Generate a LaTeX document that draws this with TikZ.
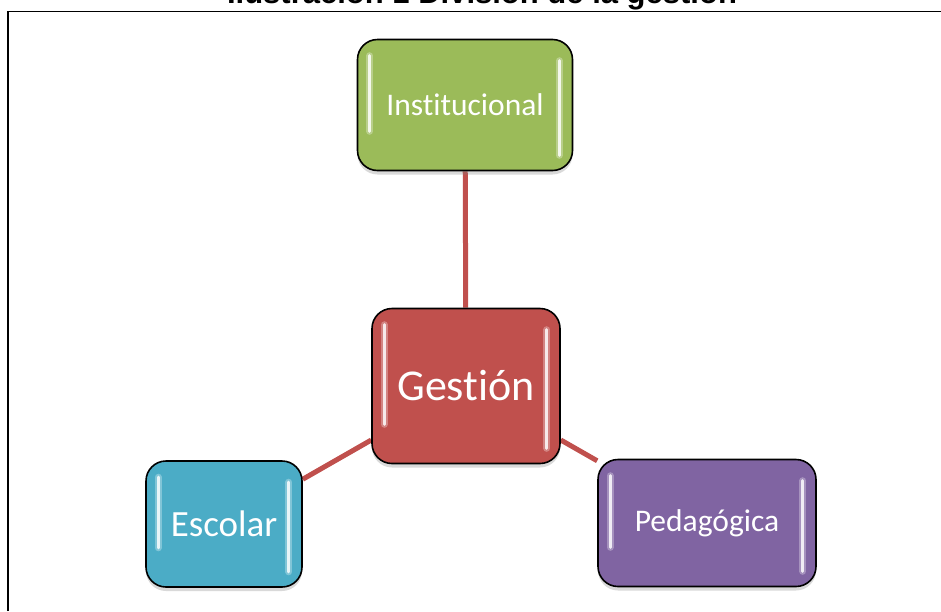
\documentclass[tikz,border=0pt]{standalone}
\usepackage{fontspec}
\setmainfont{Carlito}[Ligatures=NoCommon]
\newfontfamily\titlefont{Liberation Sans}
\usetikzlibrary{shadows,backgrounds}

\definecolor{instgreen}{HTML}{9BBB59}
\definecolor{gestred}{HTML}{C0504D}
\definecolor{escblue}{HTML}{4BACC6}
\definecolor{pedpurple}{HTML}{8064A2}

\begin{document}
\begin{tikzpicture}[x=1pt,y=-1pt,
    box/.style={draw=black, line width=1.6pt, rounded corners=20pt, text=white,
      inner sep=0pt, drop shadow={opacity=0.3, shadow xshift=0pt, shadow yshift=-4pt}},
    link/.style={draw=gestred, line width=5pt},
    glow/.style={line width=7pt, line cap=round, opacity=0.5},
    shine/.style={line width=3pt, line cap=round}]
  \useasboundingbox (0,0) rectangle (941,611);

  % frame and caption
  \draw[line width=1.6pt] (8,611) -- (8,11.5) -- (941,11.5);
  \node[anchor=base, inner sep=0pt] (title) at (482,3)
    {\titlefont\bfseries\fontsize{31}{31}\selectfont Ilustración 1 División de la gestión};

  % boxes
  \node[box, fill=instgreen, minimum width=215pt, minimum height=131pt] (inst) at (465,105)
    {\fontsize{31.5}{31.5}\selectfont Institucional};
  \node[box, fill=gestred, minimum width=188pt, minimum height=155pt] (gest) at (466,386)
    {\fontsize{44}{44}\selectfont Gestión};
  \node[box, fill=escblue, minimum width=156pt, minimum height=126pt] (esc) at (224,524)
    {\fontsize{37}{37}\selectfont Escolar};
  \node[box, fill=pedpurple, minimum width=218pt, minimum height=127pt] (ped) at (707,523)
    {\fontsize{31.5}{31.5}\selectfont Pedagógica};

  % highlights
  \foreach \n/\c in {inst/instgreen, gest/gestred, esc/escblue, ped/pedpurple}{
    \draw[glow, draw=\c!40!white] ([xshift=13pt,yshift=-17pt]\n.north west) -- ([xshift=13pt,yshift=40pt]\n.south west);
    \draw[shine, draw=\c!12!white] ([xshift=13pt,yshift=-17pt]\n.north west) -- ([xshift=13pt,yshift=40pt]\n.south west);
    \draw[glow, draw=\c!40!white] ([xshift=-14pt,yshift=-22pt]\n.north east) -- ([xshift=-14pt,yshift=16pt]\n.south east);
    \draw[shine, draw=\c!12!white] ([xshift=-14pt,yshift=-22pt]\n.north east) -- ([xshift=-14pt,yshift=16pt]\n.south east);
  }

  % links
  \begin{scope}[on background layer]
    \draw[link] (gest) -- (inst);
    \draw[link] (gest) -- (esc);
    \draw[link] (gest) -- (ped);
  \end{scope}
\end{tikzpicture}
\end{document}
